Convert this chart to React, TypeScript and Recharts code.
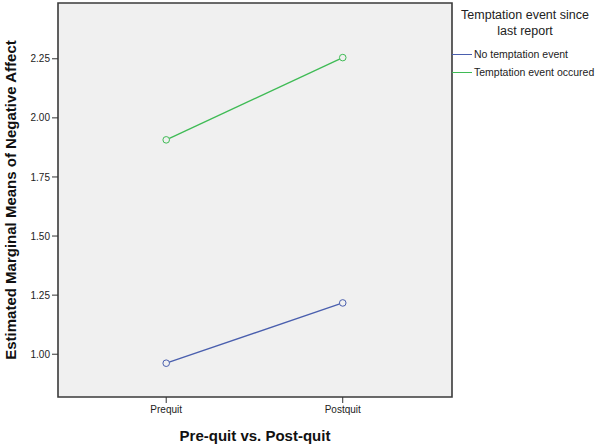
import React from 'react';
import { LineChart, Line, XAxis, YAxis, ReferenceArea } from 'recharts';

const categories = ['Prequit', 'Postquit'];
const noTemptation = [0.962, 1.217];
const temptationOccured = [1.907, 2.255];
const yTicks = [1.0, 1.25, 1.5, 1.75, 2.0, 2.25];
const yDomain: [number, number] = [0.819, 2.486];
const xDomain: [number, number] = [0.387, 2.619];
const xTicks = categories.map((_, i) => i + 1);
const seriesNames = ['No temptation event', 'Temptation event occured'];
const seriesColors = ['#4a5fae', '#3fbb55'];
const legendTitle = ['Temptation event since', 'last report'];

const data = categories.map((c, i) => ({
  x: i + 1,
  cat: c,
  no: noTemptation[i],
  yes: temptationOccured[i],
}));

const FONT = '"Liberation Sans", Arial, sans-serif';
const legendRowTops = [47, 65];

const LegendBox = () => (
  <div style={{ fontFamily: FONT, color: '#222', width: 148, position: 'absolute', left: 452, top: 0, height: 90 }}>
    <div style={{ position: 'absolute', left: 0, top: 8, width: 146, textAlign: 'center', fontSize: 12.5, lineHeight: '15.5px' }}>
      {legendTitle.map((t) => (
        <div key={t}>{t}</div>
      ))}
    </div>
    {seriesNames.map((n, i) => (
      <div key={n} style={{ position: 'absolute', left: 0, top: legendRowTops[i], height: 14, width: 148, fontSize: 10.5, whiteSpace: 'nowrap' }}>
        <div style={{ position: 'absolute', left: 0, top: 7, width: 20, height: 1, background: seriesColors[i] }} />
        <div style={{ position: 'absolute', left: 22, top: 0, lineHeight: '14px' }}>{n}</div>
      </div>
    ))}
  </div>
);

export default function App() {
  return (
    <div style={{ position: 'absolute', left: 0, top: 0, width: 600, height: 447, background: '#fff' }}>
      <LineChart width={600} height={447} data={data} margin={{ top: 3, right: 148, bottom: 0, left: 0 }}>
        <ReferenceArea y1={yDomain[0]} y2={yDomain[1]} x1={xDomain[0]} x2={xDomain[1]} fill="#f0f0f0" fillOpacity={1} stroke="#3a3a3a" strokeWidth={1.6} ifOverflow="visible" />
        <XAxis
          dataKey="x"
          type="number"
          domain={xDomain}
          ticks={xTicks}
          allowDataOverflow
          tickFormatter={(v: number) => categories[v - 1] ?? ''}
          height={50}
          axisLine={false}
          tickLine={{ stroke: '#333' }}
          tickSize={6}
          tickMargin={3}
          tick={{ fontSize: 10, fill: '#222', fontFamily: FONT }}
          label={{ value: 'Pre-quit vs. Post-quit', position: 'center', dy: 14, style: { fontSize: 15, fontWeight: 'bold', fill: '#111', fontFamily: FONT } }}
        />
        <YAxis
          type="number"
          width={58}
          domain={yDomain}
          ticks={yTicks}
          allowDataOverflow
          axisLine={false}
          tickLine={{ stroke: '#333' }}
          tickSize={6}
          tickMargin={2}
          tickFormatter={(v: number) => v.toFixed(2)}
          tick={{ fontSize: 10, fill: '#222', fontFamily: FONT }}
          label={{ value: 'Estimated Marginal Means of Negative Affect', angle: -90, position: 'center', dx: -18, style: { fontSize: 15, fontWeight: 'bold', fill: '#111', fontFamily: FONT } }}
        />
        <Line
          dataKey="no"
          name={seriesNames[0]}
          stroke={seriesColors[0]}
          strokeWidth={1.3}
          dot={{ r: 3.3, fill: '#f0f0f0', stroke: seriesColors[0], strokeWidth: 1 }}
          activeDot={false}
          isAnimationActive={false}
        />
        <Line
          dataKey="yes"
          name={seriesNames[1]}
          stroke={seriesColors[1]}
          strokeWidth={1.3}
          dot={{ r: 3.3, fill: '#f0f0f0', stroke: seriesColors[1], strokeWidth: 1 }}
          activeDot={false}
          isAnimationActive={false}
        />
      </LineChart>
      <LegendBox />
    </div>
  );
}
